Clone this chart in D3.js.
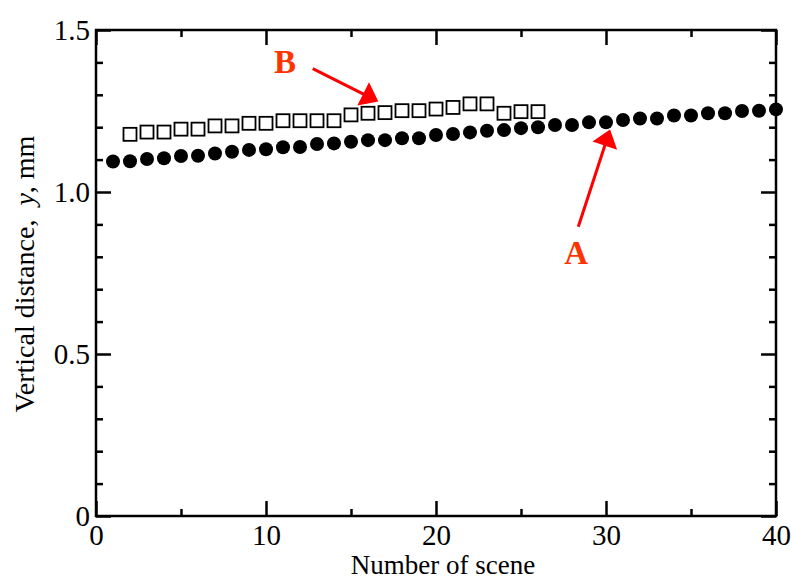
<!DOCTYPE html>
<html>
<head>
<meta charset="utf-8">
<script src="https://cdn.jsdelivr.net/npm/d3@7"></script>
<style>
  body { margin: 0; background: #fff; }
  text { font-family: "Liberation Serif", "Times New Roman", serif; }
</style>
</head>
<body>
<div id="chart"></div>
<script>

// series A : filled circles
var sceneA = [1,2,3,4,5,6,7,8,9,10,11,12,13,14,15,16,17,18,19,20,
              21,22,23,24,25,26,27,28,29,30,31,32,33,34,35,36,37,38,39,40];
var distA = [1.094,1.095,1.102,1.104,1.111,1.112,1.119,1.124,1.130,1.132,
             1.138,1.139,1.148,1.150,1.155,1.160,1.160,1.166,1.166,1.176,
             1.179,1.184,1.189,1.191,1.197,1.200,1.207,1.207,1.215,1.215,
             1.222,1.227,1.227,1.236,1.236,1.243,1.243,1.250,1.251,1.255];

// series B : open squares
var sceneB = [2,3,4,5,6,7,8,9,10,11,12,13,14,15,16,17,18,19,20,21,22,23,24,25,26];
var distB = [1.178,1.185,1.185,1.194,1.194,1.204,1.204,1.212,1.212,1.220,
             1.220,1.220,1.220,1.238,1.243,1.245,1.251,1.251,1.256,1.261,
             1.272,1.272,1.243,1.248,1.248];

var xMajor = [0,10,20,30,40];
var xMinor = [5,15,25,35];
var yMajor = [0,0.5,1.0,1.5];
var yMinor = [0.1,0.2,0.3,0.4,0.6,0.7,0.8,0.9,1.1,1.2,1.3,1.4];
var yTickLabels = ["0","0.5","1.0","1.5"];

// annotations (data units)
var labels = [{t:"B", x:11.12, y:1.367}, {t:"A", x:28.24, y:0.778}];
var arrows = [{x0:12.75, y0:1.381, x1:16.61, y1:1.279},
              {x0:28.37, y0:0.893, x1:30.24, y1:1.193}];

var W = 794, H = 582;
var margin = {top:30, right:18, bottom:66, left:96},
    width = W - margin.left - margin.right,
    height = H - margin.top - margin.bottom;

var svg = d3.select("#chart").append("svg")
  .attr("width", W)
  .attr("height", H);

var g = svg.append("g")
  .attr("transform", "translate(" + margin.left + "," + margin.top + ")");

var x = d3.scaleLinear().domain([0, 40]).range([0, width]);
var y = d3.scaleLinear().domain([0, 1.5]).range([height, 0]);

function styleAxis(sel) {
  sel.select(".domain").remove();
  sel.selectAll("line").attr("stroke", "#000").attr("stroke-width", 2.5);
  sel.selectAll("text").attr("fill", "#000").style("font-size", "29px");
}

// bottom
g.append("g").attr("transform", "translate(0," + height + ")")
  .call(d3.axisBottom(x).tickValues(xMajor).tickFormat(d3.format("d"))
    .tickSizeInner(-15).tickSizeOuter(0).tickPadding(8))
  .call(styleAxis);
g.append("g").attr("transform", "translate(0," + height + ")")
  .call(d3.axisBottom(x).tickValues(xMinor).tickFormat("")
    .tickSizeInner(-7).tickSizeOuter(0))
  .call(styleAxis);
// top
g.append("g")
  .call(d3.axisTop(x).tickValues(xMajor).tickFormat("")
    .tickSizeInner(-15).tickSizeOuter(0))
  .call(styleAxis);
g.append("g")
  .call(d3.axisTop(x).tickValues(xMinor).tickFormat("")
    .tickSizeInner(-7).tickSizeOuter(0))
  .call(styleAxis);
// left
g.append("g")
  .call(d3.axisLeft(y).tickValues(yMajor)
    .tickFormat(function(d, i){ return yTickLabels[i]; })
    .tickSizeInner(-15).tickSizeOuter(0).tickPadding(6))
  .call(styleAxis);
g.append("g")
  .call(d3.axisLeft(y).tickValues(yMinor).tickFormat("")
    .tickSizeInner(-7).tickSizeOuter(0))
  .call(styleAxis);
// right
g.append("g").attr("transform", "translate(" + width + ",0)")
  .call(d3.axisRight(y).tickValues(yMajor).tickFormat("")
    .tickSizeInner(-15).tickSizeOuter(0))
  .call(styleAxis);
g.append("g").attr("transform", "translate(" + width + ",0)")
  .call(d3.axisRight(y).tickValues(yMinor).tickFormat("")
    .tickSizeInner(-7).tickSizeOuter(0))
  .call(styleAxis);

// frame
g.append("rect")
  .attr("width", width).attr("height", height)
  .attr("fill", "none").attr("stroke", "#000").attr("stroke-width", 2.5);

// squares
var sq = 13;
g.selectAll("rect.sq")
  .data(sceneB)
  .enter().append("rect")
    .attr("class", "sq")
    .attr("x", function(d){ return x(d) - sq/2; })
    .attr("y", function(d, i){ return y(distB[i]) - sq/2; })
    .attr("width", sq).attr("height", sq)
    .attr("fill", "#fff").attr("stroke", "#000").attr("stroke-width", 1.8);

// circles
g.selectAll("circle")
  .data(sceneA)
  .enter().append("circle")
    .attr("cx", function(d){ return x(d); })
    .attr("cy", function(d, i){ return y(distA[i]); })
    .attr("r", 7)
    .attr("fill", "#000");

// arrows
arrows.forEach(function(a){
  var sx = x(a.x0), sy = y(a.y0), tx = x(a.x1), ty = y(a.y1);
  var dx = tx - sx, dy = ty - sy, len = Math.sqrt(dx*dx + dy*dy);
  var ux = dx/len, uy = dy/len;
  var headL = 17, headW = 13;
  var bx = tx - ux*headL, by = ty - uy*headL;
  g.append("line")
    .attr("x1", sx).attr("y1", sy).attr("x2", bx + ux*2).attr("y2", by + uy*2)
    .attr("stroke", "#ff0000").attr("stroke-width", 3);
  g.append("polygon")
    .attr("points", [[tx, ty], [bx - uy*headW, by + ux*headW], [bx + uy*headW, by - ux*headW]]
      .map(function(p){ return p.join(","); }).join(" "))
    .attr("fill", "#ff0000");
});

g.selectAll("text.lab")
  .data(labels)
  .enter().append("text")
    .attr("class", "lab")
    .attr("x", function(d){ return x(d.x); })
    .attr("y", function(d){ return y(d.y); })
    .attr("text-anchor", "middle")
    .attr("fill", "#ff3300")
    .style("font-size", "33px")
    .style("font-weight", "bold")
    .text(function(d){ return d.t; });

// axis titles
svg.append("text")
  .attr("x", 443).attr("y", 574)
  .attr("text-anchor", "middle")
  .style("font-size", "27px")
  .text("Number of scene");

var yt = svg.append("text")
  .attr("transform", "translate(34,274) rotate(-90)")
  .attr("text-anchor", "middle")
  .style("font-size", "28px");
yt.append("tspan").text("Vertical distance,\u00a0\u00a0");
yt.append("tspan").style("font-style", "italic").text("y");
yt.append("tspan").text(", mm");

</script>
</body>
</html>
